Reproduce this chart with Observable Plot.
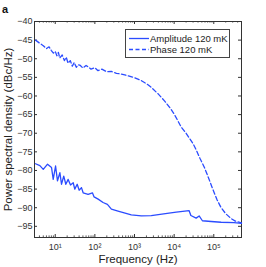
<!DOCTYPE html>
<html>
<head>
<meta charset="utf-8">
<script src="https://cdn.jsdelivr.net/npm/d3@7"></script>
<script src="https://cdn.jsdelivr.net/npm/@observablehq/plot@0.6"></script>
<style>
  html, body { margin: 0; padding: 0; background: #fff; }
  #chart { width: 266px; height: 267px; }
</style>
</head>
<body>
<div id="chart"></div>
<script>
// ---- data ----
const ampFreq = [3.19, 4.1, 4.99, 6.4, 8.07, 8.9, 10.2, 11.4, 13.1, 14.4, 16.4, 18.5, 21.2, 24.3, 28.4, 31.1, 35.8, 40.2, 45.9, 50.6, 67.6, 86.7, 95.7, 121, 161, 207, 223, 261, 384, 830, 1483, 2650, 6680, 11300, 23900, 26400, 35900, 42700, 51600, 85500, 153000, 324000, 500000];
const ampDb   = [-78.2, -78.7, -79.7, -78.3, -79.2, -82.4, -78.8, -82.8, -80.6, -83.7, -81.5, -83.7, -82.4, -83.9, -83.3, -85.0, -83.7, -85.3, -84.6, -86.0, -86.4, -86.0, -87.1, -87.7, -88.6, -89.1, -89.5, -90.4, -90.9, -91.9, -92.2, -92.1, -91.5, -91.2, -90.8, -92.1, -92.8, -92.2, -93.5, -93.7, -93.9, -94.0, -94.2];

const phaseFreq = [3.2, 4, 5, 6, 7, 8, 9, 10, 11, 12, 13, 15, 17, 19, 21, 24, 27, 30, 34, 38, 43, 50, 60, 70, 80, 100, 120, 150, 200, 260, 350, 500, 700, 1000, 1500, 2000, 2650, 4000, 5700, 8000, 10200, 15000, 20000, 30000, 36000, 45000, 58000, 75000, 95000, 120000, 153000, 200000, 272000, 350000, 500000];
const phaseDb   = [-45.0, -45.8, -46.5, -47.3, -46.8, -47.8, -48.5, -48.0, -49.2, -48.3, -49.8, -49.0, -50.5, -49.6, -51.2, -50.5, -52.0, -51.0, -52.3, -51.6, -51.8, -52.5, -51.8, -52.3, -52.8, -52.4, -53.2, -52.8, -53.5, -53.4, -53.9, -54.2, -54.6, -55.1, -55.9, -56.7, -57.7, -59.5, -61.3, -63.3, -65.0, -68.3, -70.0, -72.8, -74.5, -76.8, -79.2, -82.2, -85.1, -87.8, -90.0, -91.6, -92.9, -93.6, -94.1];

const seriesNames = ["Amplitude 120 mK", "Phase 120 mK"];
const yTicks = [-95, -90, -85, -80, -75, -70, -65, -60, -55, -50, -45, -40];
const xMajor = [10, 100, 1000, 10000, 100000];
const supers = {1: "¹", 2: "²", 3: "³", 4: "⁴", 5: "⁵"};
const xMinor = [];
for (let e = 0; e <= 5; e++) for (let m = 2; m <= 9; m++) {
  const v = m * Math.pow(10, e);
  if (v >= 3 && v <= 5e5) xMinor.push(v);
}

const amp = ampFreq.map((f, i) => ({f, v: ampDb[i]}));
const phase = phaseFreq.map((f, i) => ({f, v: phaseDb[i]}));

const FONT = "'Liberation Sans', Arial, sans-serif";
const blue = "#2b4cff";
const axisColor = "#333";
const W = 266, H = 267;
const mL = 34, mR = 25, mT = 21, mB = 30;
const pw = W - mL - mR, ph = H - mT - mB;

const plot = Plot.plot({
  width: W,
  height: H,
  marginLeft: mL, marginRight: mR, marginTop: mT, marginBottom: mB,
  style: {fontFamily: FONT, fontSize: "9px", color: axisColor, background: "#fff"},
  x: {type: "log", domain: [3, 5e5]},
  y: {domain: [-98, -40]},
  marks: [
    Plot.frame({stroke: axisColor, strokeWidth: 1}),
    // inward ticks
    Plot.tickY(yTicks, {y: d => d, insetRight: pw - 3, stroke: axisColor}),
    Plot.tickY(yTicks, {y: d => d, insetLeft: pw - 3, stroke: axisColor}),
    Plot.tickX(xMajor, {x: d => d, insetTop: ph - 3, stroke: axisColor}),
    Plot.tickX(xMajor, {x: d => d, insetBottom: ph - 3, stroke: axisColor}),
    Plot.tickX(xMinor, {x: d => d, insetTop: ph - 1.6, stroke: axisColor, strokeWidth: 0.8}),
    Plot.tickX(xMinor, {x: d => d, insetBottom: ph - 1.6, stroke: axisColor, strokeWidth: 0.8}),
    Plot.axisY(yTicks, {tickSize: 0, tickPadding: 2, tickFormat: d => "−" + Math.abs(d), fontSize: 9,
      label: "Power spectral density (dBc/Hz)", labelAnchor: "center", labelArrow: "none", labelOffset: 31}),
    Plot.axisX(xMajor, {tickSize: 0, tickPadding: 6, tickFormat: d => "10" + supers[Math.round(Math.log10(d))], fontSize: 9,
      label: "Frequency (Hz)", labelAnchor: "center", labelArrow: "none", labelOffset: 25}),
    Plot.line(phase, {x: "f", y: "v", stroke: blue, strokeWidth: 1.3, strokeDasharray: "4.5,2.5"}),
    Plot.line(amp, {x: "f", y: "v", stroke: blue, strokeWidth: 1.3})
  ]
});

document.getElementById("chart").appendChild(plot);

const svg = d3.select(plot);
svg.selectAll("[aria-label='y-axis label'] text, [aria-label='x-axis label'] text")
  .style("font-size", "11.5px").attr("fill", "#222");

// panel letter
svg.append("text").attr("x", 2).attr("y", 13).attr("text-anchor", "start")
  .attr("font-family", FONT).attr("font-weight", "bold").attr("font-size", "11px").attr("fill", "#111").text("a");

// legend
const lg = svg.append("g").attr("font-family", FONT).attr("text-anchor", "start");
lg.append("rect").attr("x", 125.5).attr("y", 29.5).attr("width", 104).attr("height", 28)
  .attr("fill", "#fff").attr("stroke", "#444").attr("stroke-width", 1);
seriesNames.forEach((name, i) => {
  const yy = 38.5 + i * 11;
  lg.append("line").attr("x1", 129).attr("x2", 149).attr("y1", yy).attr("y2", yy)
    .attr("stroke", blue).attr("stroke-width", 1.3).attr("stroke-dasharray", i ? "4,2.5" : null);
  lg.append("text").attr("x", 150).attr("y", yy + 3.3).attr("font-size", "9.5px").attr("fill", "#222").text(name);
});
</script>
</body>
</html>
